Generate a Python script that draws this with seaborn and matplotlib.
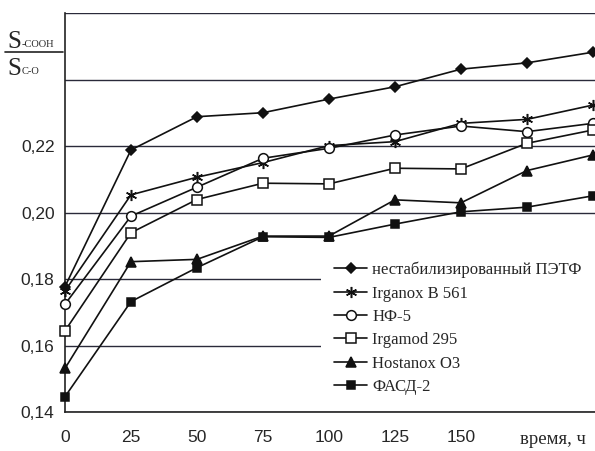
import matplotlib
matplotlib.use("Agg")
import matplotlib.pyplot as plt
from matplotlib.lines import Line2D
import seaborn as sb
import pandas as pd

# time, h
hours = [0, 25, 50, 75, 100, 125, 150, 175, 200]

petNoStab = [0.1778, 0.2189, 0.2289, 0.2301, 0.2342, 0.2379, 0.2432, 0.2451, 0.2483]
irganoxB561 = [0.1765, 0.2054, 0.2107, 0.2151, 0.2202, 0.2214, 0.2269, 0.2281, 0.2324]
nf5 = [0.1725, 0.1990, 0.2077, 0.2164, 0.2194, 0.2234, 0.2261, 0.2244, 0.2269]
irgamod295 = [0.1645, 0.1940, 0.2040, 0.2089, 0.2087, 0.2134, 0.2132, 0.2209, 0.2249]
hostanoxO3 = [0.1532, 0.1853, 0.1860, 0.1930, 0.1930, 0.2039, 0.2030, 0.2127, 0.2174]
fasd2 = [0.1447, 0.1733, 0.1835, 0.1928, 0.1926, 0.1966, 0.2003, 0.2017, 0.2051]

seriesNames = ["нестабилизированный ПЭТФ", "Irganox B 561", "НФ-5",
               "Irgamod 295", "Hostanox O3", "ФАСД-2"]
seriesValues = [petNoStab, irganoxB561, nf5, irgamod295, hostanoxO3, fasd2]

xTicks = [0, 25, 50, 75, 100, 125, 150]
yTicks = [0.14, 0.16, 0.18, 0.20, 0.22, 0.24, 0.26]
yTickLabels = ["0,14", "0,16", "0,18", "0,20", "0,22", "", ""]


if __name__ == '__main__':
    sb.set_style("white")
    plt.rcParams['font.family'] = ['Liberation Sans', 'DejaVu Sans']

    fig = plt.figure(figsize=(5.95, 4.51), dpi=100)
    ax = fig.add_axes([0.1092, 0.0858, 0.8908, 0.8847])

    markerList = ["D", (6, 2, 0), "o", "s", "^", "s"]
    faces = ["#111111", "#111111", "white", "white", "#111111", "#111111"]
    sizes = [5, 8, 7, 7, 7, 6]

    for name, vals, mk, fc, ms in zip(seriesNames, seriesValues, markerList, faces, sizes):
        dfSeries = pd.DataFrame({"time": hours, "value": vals})
        sb.lineplot(data=dfSeries, x="time", y="value", ax=ax, color="#111111",
                    linewidth=1.2, marker=mk, markersize=ms, markerfacecolor=fc,
                    markeredgecolor="#111111", markeredgewidth=1.1, label=name,
                    clip_on=False, zorder=4)

    ax.set_xlim(0, 200.8)
    ax.set_ylim(0.14, 0.26)
    ax.set_xticks(xTicks)
    ax.set_xticklabels([str(t) for t in xTicks], fontsize=12.5)
    ax.set_yticks(yTicks)
    ax.set_yticklabels(yTickLabels, fontsize=12.5)
    ax.tick_params(axis="x", direction="out", length=3, width=0.8, color="#333333", pad=10)
    ax.tick_params(axis="y", direction="out", length=4.5, width=0.9, color="#333333", pad=3)
    ax.grid(axis="y", color="#2a2a3a", linewidth=1.0)
    ax.grid(axis="x", visible=False)
    ax.set_axisbelow(True)
    for side in ["right", "top"]:
        ax.spines[side].set_visible(False)
    for side in ["left", "bottom"]:
        ax.spines[side].set_color("#222222")
        ax.spines[side].set_linewidth(1.2)
    ax.set_xlabel("")
    ax.set_ylabel("")

    handles, labels = ax.get_legend_handles_labels()
    leg = ax.legend(handles, labels, loc="lower right", bbox_to_anchor=(1.0, 0.01),
                    frameon=True, facecolor="white", edgecolor="none", framealpha=1,
                    prop={"family": "Liberation Serif", "size": 12},
                    handlelength=2.0, handletextpad=0.3, labelspacing=0.44,
                    borderpad=0.8, borderaxespad=0)
    leg.set_zorder(5)

    ax.text(185, 0.1317, "время, ч", ha="center", va="center",
            fontsize=13.5, family="Liberation Serif")

    # y label drawn as a fraction S-COOH / SC-O
    serif = "Liberation Serif"
    fig.text(0.0118, 0.893, "S", ha="left", va="baseline", fontsize=18, family=serif)
    fig.text(0.0370, 0.895, "-COOH", ha="left", va="baseline", fontsize=7.5, family=serif)
    fig.text(0.0118, 0.8337, "S", ha="left", va="baseline", fontsize=18, family=serif)
    fig.text(0.0370, 0.836, "C-O", ha="left", va="baseline", fontsize=7.5, family=serif)
    fig.add_artist(Line2D([0.0084, 0.106], [0.884, 0.884], color="#222222", linewidth=1.2))

    fig.savefig("out.png", dpi=100)
